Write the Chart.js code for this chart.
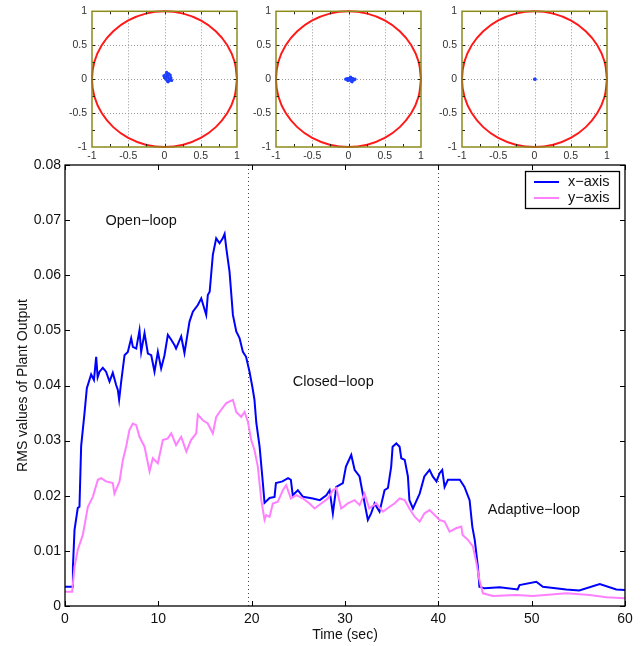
<!DOCTYPE html>
<html>
<head>
<meta charset="utf-8">
<title>RMS values of Plant Output</title>
<script src="https://cdn.jsdelivr.net/npm/chart.js@4.4.0/dist/chart.umd.min.js"></script>
<style>
  body { margin: 0; background: #fff; }
  #wrap { position: relative; width: 642px; height: 646px; overflow: hidden; }
  canvas { position: absolute; top: 0; }
</style>
</head>
<body>
<div id="wrap">
  <canvas id="mainChart" width="642" height="646" style="left:0"></canvas>
  <canvas id="disc1" width="185" height="165" style="left:60px"></canvas>
  <canvas id="disc2" width="185" height="165" style="left:244px"></canvas>
  <canvas id="disc3" width="185" height="165" style="left:430px"></canvas>
</div>
<script>
// ---- main chart data ----
const timeX = [0, 0.77, 0.85, 1.02, 1.37, 1.55, 1.73, 2.09, 2.34, 2.8, 3.1, 3.34, 3.5, 3.7, 4.05, 4.4, 4.77, 5.12, 5.48, 5.66, 5.8,
  6.02, 6.38, 6.73, 7.09, 7.27, 7.63, 7.98, 8.16, 8.52, 8.88, 9.24, 9.59, 9.95, 10.3, 10.66, 11.02, 11.38, 11.74, 11.9,
  12.45, 12.8, 13.0, 13.34, 13.7, 14.23, 14.6, 15.13, 15.3, 15.5, 15.84, 16.2, 16.56, 16.9, 17.1, 17.28, 17.63, 17.99,
  18.35, 18.7, 19.06, 19.4, 19.77, 20.1, 20.3, 20.5, 20.85, 21.2, 21.38, 21.92, 22.45, 22.6, 23.3, 23.9, 24.2, 24.4,
  24.95, 25.5, 26.56, 27.3, 28.0, 28.35, 28.7, 29.07, 29.77, 30.1, 30.67, 31.03, 31.56, 31.9, 32.45, 32.8, 33.17, 33.7,
  34.24, 34.6, 34.95, 35.1, 35.5, 35.85, 36.03, 36.4, 36.74, 36.9, 37.28, 37.6, 38.0, 38.5, 39.06, 39.4, 39.8, 40.14,
  40.42, 40.67, 41.03, 42.3, 42.8, 43.35, 43.64, 43.9, 44.24, 44.4, 44.96, 46.57, 48.5, 48.7, 50.5, 51.2, 53.7, 55.1,
  57.3, 59.07, 60];
const rmsX = [0.0035, 0.0035, 0.0071, 0.0138, 0.0178, 0.018, 0.029, 0.035, 0.0395, 0.042, 0.041, 0.0452, 0.0415, 0.0425,
  0.0432, 0.0425, 0.0407, 0.0423, 0.0401, 0.0392, 0.0374, 0.0407, 0.0455, 0.0461, 0.0486, 0.047, 0.0467, 0.050, 0.0461,
  0.0495, 0.0458, 0.0455, 0.0425, 0.0461, 0.0431, 0.0455, 0.0492, 0.0483, 0.0473, 0.0467, 0.0489, 0.0459, 0.048, 0.0516,
  0.0534, 0.0546, 0.0558, 0.0528, 0.0564, 0.057, 0.0637, 0.0667, 0.0658, 0.0667, 0.0675, 0.0649, 0.0606, 0.0528, 0.0498,
  0.0486, 0.0461, 0.0452, 0.0425, 0.0395, 0.0374, 0.0332, 0.0289, 0.0223, 0.0187, 0.0196, 0.0198, 0.0223, 0.0226, 0.0232,
  0.0229, 0.0201, 0.021, 0.0198, 0.0195, 0.0192, 0.0201, 0.021, 0.0168, 0.0216, 0.0223, 0.0253, 0.0274, 0.0247, 0.0235,
  0.0204, 0.0156, 0.0168, 0.0186, 0.0171, 0.021, 0.0214, 0.0253, 0.0289, 0.0295, 0.0289, 0.0268, 0.0265, 0.0235, 0.0192,
  0.0177, 0.0189, 0.0204, 0.0235, 0.0247, 0.0235, 0.0226, 0.0241, 0.0247, 0.0216, 0.0229, 0.0229, 0.0216, 0.0192, 0.0144,
  0.012, 0.0071, 0.0035, 0.0032, 0.0034, 0.003, 0.0038, 0.0044, 0.0035, 0.003, 0.0028, 0.004, 0.003, 0.0029];

const timeY = [0, 0.77, 1.02, 1.37, 1.91, 2.45, 2.98, 3.52, 3.87, 4.4, 5.12, 5.3, 5.84, 6.2, 6.55, 6.9, 7.27, 7.63, 7.98,
  8.52, 9.06, 9.41, 9.95, 10.48, 11.02, 11.38, 11.9, 12.45, 13.0, 13.5, 14.06, 14.23, 14.77, 15.3, 15.84, 16.2, 16.74,
  17.28, 17.99, 18.35, 18.88, 19.24, 19.6, 19.95, 20.3, 20.66, 21.03, 21.38, 21.56, 21.92, 22.27, 22.8, 23.34, 23.7, 24.2,
  24.8, 25.5, 26.2, 26.74, 27.45, 28.17, 28.7, 29.07, 29.6, 30.3, 31.03, 31.56, 32.1, 32.6, 33.35, 34.06, 34.78, 35.3,
  35.85, 36.4, 36.9, 37.46, 38.0, 38.5, 39.06, 39.6, 40.14, 40.67, 41.2, 41.9, 42.46, 42.6, 43.17, 43.7, 44.06, 44.4,
  44.78, 45.85, 48.35, 50.14, 53.7, 56.2, 58.0, 60];
const rmsY = [0.0026, 0.0026, 0.0071, 0.0102, 0.0129, 0.018, 0.0198, 0.0229, 0.0232, 0.0226, 0.0223, 0.0204, 0.0226,
  0.0265, 0.0289, 0.0319, 0.0331, 0.0328, 0.0307, 0.0289, 0.0244, 0.0268, 0.0259, 0.0301, 0.0304, 0.0313, 0.0292, 0.0307,
  0.028, 0.0301, 0.0313, 0.0347, 0.0337, 0.0331, 0.0313, 0.0343, 0.0356, 0.0368, 0.0374, 0.0352, 0.0343, 0.0352, 0.0334,
  0.0301, 0.0283, 0.0253, 0.0192, 0.0156, 0.0165, 0.0162, 0.0186, 0.0189, 0.021, 0.0219, 0.0195, 0.0201, 0.0195, 0.0186,
  0.0177, 0.0186, 0.0195, 0.021, 0.0214, 0.0177, 0.0186, 0.0192, 0.0183, 0.0204, 0.0177, 0.0186, 0.0171, 0.018, 0.0186,
  0.0195, 0.0192, 0.0177, 0.0162, 0.0153, 0.0168, 0.0174, 0.0165, 0.0156, 0.0153, 0.0135, 0.0141, 0.0144, 0.0129, 0.012,
  0.0108, 0.008, 0.0047, 0.0023, 0.0018, 0.002, 0.0018, 0.0023, 0.002, 0.0016, 0.0014];

const seriesNames = ['x\u2212axis', 'y\u2212axis'];
const phaseBounds = [19.6, 40];
const phaseNames = ['Open\u2212loop', 'Closed\u2212loop', 'Adaptive\u2212loop'];
const phaseLabelTime = [4.34, 24.4, 45.3];
const phaseLabelLevel = [0.0698, 0.0407, 0.0174];

// ---- small disc plots ----
// unit circle boundary, 15 degree steps
const circleX = [1, 0.966, 0.866, 0.707, 0.5, 0.259, 0, -0.259, -0.5, -0.707, -0.866, -0.966, -1,
  -0.966, -0.866, -0.707, -0.5, -0.259, 0, 0.259, 0.5, 0.707, 0.866, 0.966, 1];
const circleY = [0, 0.259, 0.5, 0.707, 0.866, 0.966, 1, 0.966, 0.866, 0.707, 0.5, 0.259, 0,
  -0.259, -0.5, -0.707, -0.866, -0.966, -1, -0.966, -0.866, -0.707, -0.5, -0.259, 0];
const pathX1 = [0.02, 0.06, 0.09, 0.04, -0.01, 0.03, 0.08, 0.1, 0.05, 0.0, 0.04, 0.07, 0.02];
const pathY1 = [0.0, 0.08, 0.02, -0.03, 0.05, 0.1, 0.06, -0.02, -0.04, 0.02, 0.07, 0.0, 0.03];
const pathX2 = [-0.04, 0.02, 0.08, 0.05, -0.02, 0.03, 0.09, 0.04, -0.01, 0.06];
const pathY2 = [0.0, 0.02, -0.01, -0.04, 0.01, 0.03, 0.0, -0.03, -0.02, 0.01];
const pathX3 = [0, 0.01];
const pathY3 = [0, 0];
const discTicks = [-1, -0.5, 0, 0.5, 1];

const font = 'Liberation Sans, Arial, Helvetica, sans-serif';
const toPoints = (xs, ys) => xs.map((v, i) => ({x: v, y: ys[i]}));

const mainFrame = {
  id: 'mainFrame',
  beforeDatasetsDraw(chart) {
    const {ctx, chartArea: a, scales: {x}} = chart;
    ctx.save();
    ctx.strokeStyle = '#444';
    ctx.lineWidth = 1;
    ctx.setLineDash([1, 3]);
    phaseBounds.forEach(t => {
      const px = Math.round(x.getPixelForValue(t)) + 0.5;
      ctx.beginPath();
      ctx.moveTo(px, a.top);
      ctx.lineTo(px, a.bottom);
      ctx.stroke();
    });
    ctx.restore();
  },
  afterDatasetsDraw(chart) {
    const {ctx, chartArea: a, scales: {x, y}} = chart;
    ctx.save();
    ctx.strokeStyle = '#000';
    ctx.lineWidth = 1;
    // inward ticks on all four sides
    ctx.beginPath();
    x.ticks.forEach(t => {
      const px = Math.round(x.getPixelForValue(t.value)) + 0.5;
      ctx.moveTo(px, a.bottom); ctx.lineTo(px, a.bottom - 5);
      ctx.moveTo(px, a.top); ctx.lineTo(px, a.top + 5);
    });
    y.ticks.forEach(t => {
      const py = Math.round(y.getPixelForValue(t.value)) + 0.5;
      ctx.moveTo(a.left, py); ctx.lineTo(a.left + 5, py);
      ctx.moveTo(a.right, py); ctx.lineTo(a.right - 5, py);
    });
    ctx.stroke();
    ctx.lineWidth = 1.3;
    ctx.strokeRect(a.left, a.top, a.right - a.left, a.bottom - a.top);

    // phase labels
    ctx.fillStyle = '#111';
    ctx.font = '14.5px ' + font;
    ctx.textBaseline = 'middle';
    ctx.textAlign = 'left';
    phaseNames.forEach((txt, i) => {
      ctx.fillText(txt, x.getPixelForValue(phaseLabelTime[i]), y.getPixelForValue(phaseLabelLevel[i]));
    });

    // legend box, top right
    const bx = a.right - 100, by = a.top + 6, bw = 94, bh = 37;
    ctx.fillStyle = '#fff';
    ctx.fillRect(bx, by, bw, bh);
    ctx.lineWidth = 1.3;
    ctx.strokeStyle = '#000';
    ctx.strokeRect(bx + 0.5, by + 0.5, bw, bh);
    chart.data.datasets.slice().sort((p, q) => p.legendIndex - q.legendIndex).forEach((ds, i) => {
      const ly = by + 11 + i * 16;
      ctx.strokeStyle = ds.borderColor;
      ctx.lineWidth = 2;
      ctx.beginPath();
      ctx.moveTo(bx + 9, ly);
      ctx.lineTo(bx + 34, ly);
      ctx.stroke();
      ctx.fillStyle = '#111';
      ctx.fillText(ds.label, bx + 43, ly);
    });
    ctx.restore();
  }
};

new Chart(document.getElementById('mainChart'), {
  type: 'line',
  data: {
    datasets: [{
      label: seriesNames[1],
      legendIndex: 1,
      data: toPoints(timeY, rmsY),
      borderColor: '#ff80ff',
      borderWidth: 2,
      pointRadius: 0,
      tension: 0,
      order: 0
    }, {
      label: seriesNames[0],
      legendIndex: 0,
      data: toPoints(timeX, rmsX),
      borderColor: '#0000ff',
      borderWidth: 2,
      pointRadius: 0,
      tension: 0,
      order: 1
    }]
  },
  options: {
    responsive: false,
    animation: false,
    devicePixelRatio: 1,
    layout: { padding: { top: 165, right: 17, left: 0, bottom: 0 } },
    plugins: { legend: { display: false }, tooltip: { enabled: false } },
    scales: {
      x: {
        type: 'linear',
        min: 0,
        max: 60,
        afterFit: s => { s.height = 40; },
        grid: { display: false, drawTicks: false },
        border: { display: false },
        ticks: { stepSize: 10, padding: 5, color: '#111', font: { family: font, size: 14 }, maxRotation: 0 },
        title: { display: true, text: 'Time (sec)', color: '#111', font: { family: font, size: 14 }, padding: { top: 0, bottom: 2 } }
      },
      y: {
        min: 0,
        max: 0.08,
        afterFit: s => { s.width = 65; },
        grid: { display: false, drawTicks: false },
        border: { display: false },
        ticks: {
          stepSize: 0.01, padding: 4, color: '#111', font: { family: font, size: 14 },
          callback: v => v === 0 ? '0' : v.toFixed(2)
        },
        title: { display: true, text: 'RMS values of Plant Output', color: '#111', font: { family: font, size: 14 }, padding: { top: 15, bottom: 0 } }
      }
    }
  },
  plugins: [mainFrame]
});

const discFrame = {
  id: 'discFrame',
  beforeDatasetsDraw(chart) {
    const {ctx, chartArea: a, scales: {x, y}} = chart;
    ctx.save();
    ctx.strokeStyle = '#999';
    ctx.lineWidth = 1;
    ctx.setLineDash([1, 2]);
    ctx.beginPath();
    [-0.5, 0, 0.5].forEach(v => {
      const px = Math.round(x.getPixelForValue(v)) + 0.5;
      const py = Math.round(y.getPixelForValue(v)) + 0.5;
      ctx.moveTo(px, a.top); ctx.lineTo(px, a.bottom);
      ctx.moveTo(a.left, py); ctx.lineTo(a.right, py);
    });
    ctx.stroke();
    ctx.restore();
  },
  afterDatasetsDraw(chart) {
    const {ctx, chartArea: a, scales: {x, y}} = chart;
    ctx.save();
    ctx.strokeStyle = '#222';
    ctx.lineWidth = 1;
    ctx.beginPath();
    [-0.75, -0.5, -0.25, 0, 0.25, 0.5, 0.75].forEach(v => {
      const px = Math.round(x.getPixelForValue(v)) + 0.5;
      const py = Math.round(y.getPixelForValue(v)) + 0.5;
      ctx.moveTo(px, a.bottom); ctx.lineTo(px, a.bottom - 3);
      ctx.moveTo(px, a.top); ctx.lineTo(px, a.top + 3);
      ctx.moveTo(a.left, py); ctx.lineTo(a.left + 3, py);
      ctx.moveTo(a.right, py); ctx.lineTo(a.right - 3, py);
    });
    ctx.stroke();
    ctx.strokeStyle = '#8c8c1a';
    ctx.lineWidth = 1.5;
    ctx.strokeRect(a.left, a.top, a.right - a.left, a.bottom - a.top);
    ctx.restore();
  }
};

function makeDisc(id, px, py) {
  const tickOpts = {
    stepSize: 0.5, color: '#333', font: { family: font, size: 10.5 },
    callback: v => discTicks.includes(v) ? String(v) : ''
  };
  new Chart(document.getElementById(id), {
    type: 'scatter',
    data: {
      datasets: [{
        data: toPoints(px, py),
        showLine: true,
        borderColor: '#1f3fff',
        backgroundColor: '#1f3fff',
        borderWidth: 1.5,
        pointRadius: 0.8
      }, {
        data: toPoints(circleX, circleY),
        showLine: true,
        borderColor: '#ff1a1a',
        borderWidth: 2,
        pointRadius: 0,
        tension: 0.4,
        clip: 4
      }]
    },
    options: {
      responsive: false,
      animation: false,
      devicePixelRatio: 1,
      layout: { padding: { top: 8, right: 8, left: 0, bottom: 0 } },
      plugins: { legend: { display: false }, tooltip: { enabled: false } },
      scales: {
        x: {
          min: -1, max: 1,
          afterFit: s => { s.height = 18; },
          grid: { display: false, drawTicks: false },
          border: { display: false },
          ticks: Object.assign({ padding: 3, maxRotation: 0, autoSkip: false }, tickOpts)
        },
        y: {
          min: -1, max: 1,
          afterFit: s => { s.width = 32; },
          grid: { display: false, drawTicks: false },
          border: { display: false },
          ticks: Object.assign({ padding: 5, autoSkip: false }, tickOpts)
        }
      }
    },
    plugins: [discFrame]
  });
}

makeDisc('disc1', pathX1, pathY1);
makeDisc('disc2', pathX2, pathY2);
makeDisc('disc3', pathX3, pathY3);
</script>
</body>
</html>
